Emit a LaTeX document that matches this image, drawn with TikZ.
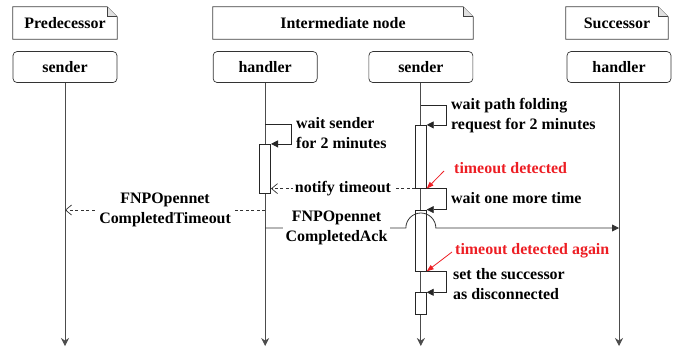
\documentclass[tikz,border=0pt]{standalone}
\usepackage{fontspec}
\setmainfont{Liberation Serif}
\usepackage{xcolor}
\usepackage{tikz}
\usetikzlibrary{arrows.meta, positioning}

\definecolor{alertred}{RGB}{237,30,36}

% dog-eared header box around a node
\newcommand{\notebox}[1]{%
  \draw [noteline] (#1.south west) -- (#1.north west) -- ([xshift=-10bp]#1.north east)
        -- ([yshift=-10bp]#1.north east) -- (#1.south east) -- cycle;
  \draw [noteline, fill=black!12] ([xshift=-10bp]#1.north east)
        -- ([xshift=-10bp,yshift=-10bp]#1.north east) -- ([yshift=-10bp]#1.north east);
}

\begin{document}
\begin{tikzpicture}[x=1bp, y=-1bp,
    font=\fontsize{16}{20}\selectfont\bfseries,
    noteline/.style={draw=black!75, line width=0.7bp},
    header/.style={rectangle, minimum height=32bp, inner sep=0pt},
    lifebox/.style={rectangle, rounded corners=4bp, draw=black!80, line width=0.7bp,
                    minimum width=104bp, minimum height=31bp, inner sep=0pt},
    activation/.style={rectangle, draw=black!85, fill=white, line width=0.7bp,
                       minimum width=11bp, inner sep=0pt},
    lifeline/.style={draw=black!70, line width=0.8bp, -{Stealth[length=8bp, width=8bp]}},
    selfmsg/.style={draw=black!85, line width=0.8bp, -{Triangle[length=7bp, width=7bp]}},
    arrow/.style={draw=black!80, line width=0.8bp, -{Triangle[length=7bp, width=7bp]}},
    reply/.style={draw=black!80, line width=0.7bp, dash pattern=on 3bp off 2.5bp,
                  -{Straight Barb[length=6bp, width=10bp]}},
    msglabel/.style={fill=white, inner sep=3bp, align=center},
    note/.style={inner sep=0pt, anchor=west, align=left},
    alert/.style={note, text=alertred},
    alertarrow/.style={draw=alertred, line width=0.8bp, -{Triangle[length=7bp, width=5bp]}}
]
\useasboundingbox (0,0) rectangle (681,350);

% participants
\node (pred)  [header, minimum width=104bp] at (65,23)  {Predecessor};
\node (inter) [header, minimum width=260bp] at (343,23) {Intermediate node};
\node (succ)  [header, minimum width=102bp] at (617,23) {Successor};
\notebox{pred}
\notebox{inter}
\notebox{succ}

\node (psnd) [lifebox, below=12bp of pred] {sender};
\node (ihnd) [lifebox, below=12bp of inter.south west, anchor=north west] {handler};
\node (isnd) [lifebox, below=12bp of inter.south east, anchor=north east] {sender};
\node (shnd) [lifebox, below=12bp of succ, xshift=2bp] {handler};

\coordinate (bottom) at (0,346);
\draw [lifeline] (psnd) -- (psnd |- bottom);
\draw [lifeline] (ihnd) -- (ihnd |- bottom);
\draw [lifeline] (isnd) -- (isnd |- bottom);
\draw [lifeline] (shnd) -- (shnd |- bottom);

% activations
\node (hact)  [activation, minimum height=49bp, below=61bp of ihnd] {};
\node (sact1) [activation, minimum height=63bp, below=42bp of isnd] {};
\node (sact2) [activation, minimum height=61bp, below=21bp of sact1] {};
\node (sact3) [activation, minimum height=22bp, below=21bp of sact2] {};

% self messages
\draw [selfmsg] ([yshift=20bp]hact.north) -- ++(26,0) |- (hact.north east);
\draw [selfmsg] ([yshift=20bp]sact1.north) -- ++(26,0) |- (sact1.north east);
\draw [selfmsg] (sact1.south) -- ++(26,0) |- (sact2.north east);
\draw [selfmsg] (sact2.south) -- ++(26,0) |- (sact3.north east);

\node (wsnd)  [note] at (296,133) {wait sender\\for 2 minutes};
\node (wpath) [note] at (451,116) {wait path folding\\request for 2 minutes};
\node (wmore) [note] at (451,198) {wait one more time};
\node (wset)  [note] at (453,284) {set the successor\\as disconnected};

\node (tdet)   [alert] at (454,168) {timeout detected};
\node (tagain) [alert] at (455,251) {timeout detected again};
\draw [alertarrow] ([xshift=-10bp,yshift=-3bp]tdet.west) -- (sact1.south east);
\draw [alertarrow] ([xshift=-3bp,yshift=-1bp]tagain.west) -- (sact2.south east);

% messages
\draw [reply] (sact1.south west) -- node[msglabel, inner sep=2bp]{notify timeout}
      (sact1.south west -| hact.east);

\coordinate (ctoA) at (ihnd |- 0,210);
\draw [reply] (ctoA) -- node[msglabel]{FNPOpennet\\CompletedTimeout} (ctoA -| psnd);

\coordinate (ackA) at (ihnd |- 0,228);
\coordinate (ackJ) at (ackA -| isnd);
\draw [arrow] (ackA) -- node[msglabel, xshift=1bp]{FNPOpennet\\CompletedAck} ([xshift=-15bp]ackJ)
      arc[start angle=180, end angle=0, radius=15bp] -- (ackA -| shnd);
\end{tikzpicture}
\end{document}
